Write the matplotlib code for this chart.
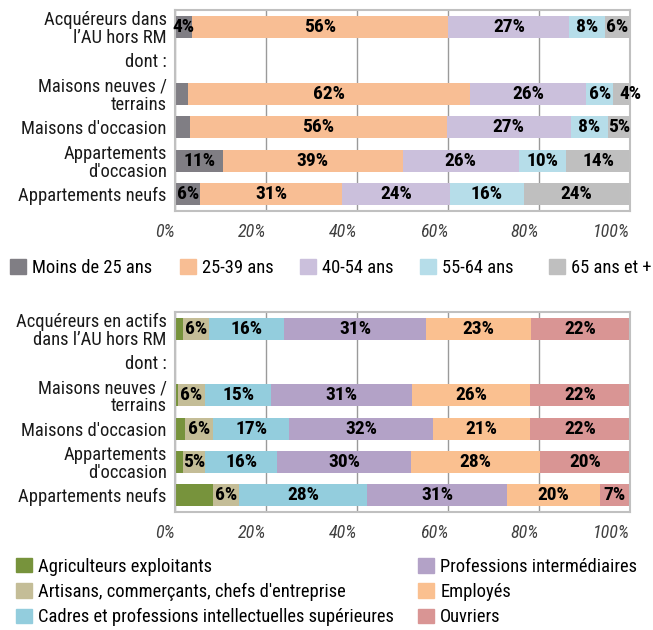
import numpy as np
import matplotlib as mpl
mpl.use('Agg')
import matplotlib.pyplot as plt
import matplotlib.transforms as mtransforms
from matplotlib.patches import Patch

plt.rcParams['font.family'] = ['Roboto Condensed', 'Archivo Narrow', 'Liberation Sans Narrow', 'DejaVu Sans']

# --- top chart: age of buyers ---
age_rows = ["Acquéreurs dans\nl’AU hors RM", "dont :", "Maisons neuves /\nterrains",
            "Maisons d'occasion", "Appartements\nd'occasion", "Appartements neufs"]
age_names = ["Moins de 25 ans", "25-39 ans", "40-54 ans", "55-64 ans", "65 ans et +"]
age_colors = ["#807e84", "#f8be94", "#cbc0dc", "#b6dde9", "#bfbfbf"]
age_u25 = [3.7, 0, 2.9, 3.3, 10.6, 5.6]
age_25_39 = [56.4, 0, 61.9, 56.4, 39.4, 31.2]
age_40_54 = [26.6, 0, 25.6, 27.3, 25.6, 23.6]
age_55_64 = [7.8, 0, 5.9, 8.1, 10.4, 16.2]
age_65 = [5.5, 0, 3.7, 4.9, 14.0, 23.4]
age_labels = [[4, 56, 27, 8, 6],
              [None] * 5,
              [None, 62, 26, 6, 4],
              [None, 56, 27, 8, 5],
              [11, 39, 26, 10, 14],
              [6, 31, 24, 16, 24]]

# --- bottom chart: socio-professional category ---
csp_rows = ["Acquéreurs en actifs\ndans l’AU hors RM", "dont :", "Maisons neuves /\nterrains",
            "Maisons d'occasion", "Appartements\nd'occasion", "Appartements neufs"]
csp_names = ["Agriculteurs exploitants", "Artisans, commerçants, chefs d'entreprise",
             "Cadres et professions intellectuelles supérieures",
             "Professions intermédiaires", "Employés", "Ouvriers"]
csp_colors = ["#77933c", "#c4bd97", "#93cddd", "#b3a2c7", "#fac090", "#d99594"]
csp_agri = [1.8, 0, 0.7, 2.2, 1.8, 8.3]
csp_arti = [5.7, 0, 5.9, 6.2, 4.9, 5.8]
csp_cadres = [16.4, 0, 14.6, 16.7, 15.7, 28.2]
csp_inter = [31.3, 0, 30.9, 31.7, 29.5, 30.7]
csp_empl = [23.0, 0, 26.0, 21.2, 28.3, 20.3]
csp_ouvr = [21.8, 0, 21.9, 22.0, 19.8, 6.7]
csp_labels = [[None, 6, 16, 31, 23, 22],
              [None] * 6,
              [None, 6, 15, 31, 26, 22],
              [None, 6, 17, 32, 21, 22],
              [None, 5, 16, 30, 28, 20],
              [None, 6, 28, 31, 20, 7]]

xticks = [0, 20, 40, 60, 80, 100]

FS = 13.3
W, H = 653, 630


def stacked(ax, rows, series, colors, labels):
    y = np.arange(len(rows))
    left = np.zeros(len(rows))
    for k, (vals, col) in enumerate(zip(series, colors)):
        vals = np.array(vals, dtype=float)
        ax.barh(y, vals, left=left, height=0.66, color=col, zorder=2)
        for i in range(len(rows)):
            lab = labels[i][k]
            if lab is not None:
                xc = left[i] + vals[i] / 2
                # very thin last segment: label sits on the right edge
                if k == len(series) - 1 and vals[i] < 4.5:
                    xc = left[i] + vals[i]
                ax.text(xc, y[i], f"{lab}%", ha='center', va='center',
                        fontsize=14, fontweight='bold', color='black', zorder=3, clip_on=False)
        left += vals
    ax.set_xlim(0, 100)
    ax.set_ylim(len(rows) - 0.5, -0.5)
    ax.set_yticks(y)
    ax.set_yticklabels(rows, fontsize=FS, linespacing=1.0, color='#1a1a1a')
    ax.set_xticks(xticks)
    ax.set_xticklabels([f"{t}%" for t in xticks], fontsize=13, style='italic',
                       color='#404040', ha='right')
    offset = mtransforms.ScaledTranslation(4 / 72, 0, ax.figure.dpi_scale_trans)
    for t in ax.get_xticklabels():
        t.set_transform(t.get_transform() + offset)
    ax.tick_params(axis='both', length=0)
    ax.tick_params(axis='y', pad=6)
    ax.tick_params(axis='x', pad=9)
    ax.grid(axis='x', color='#9a9a9a', linewidth=1)
    ax.set_axisbelow(True)
    for s in ax.spines.values():
        s.set_color('#c0c0c0')
        s.set_linewidth(1.5)


def legend_block(fig, names, colors, x, y, spacing=0.2):
    handles = [Patch(color=c) for c in colors]
    leg = fig.legend(handles, names, loc='center left', bbox_to_anchor=(x / W, 1 - y / H),
                     frameon=False, fontsize=FS, handlelength=0.85, handleheight=0.85,
                     handletextpad=0.35, labelspacing=spacing, borderpad=0, borderaxespad=0)
    return leg


fig = plt.figure(figsize=(6.53, 6.30), dpi=100)

ax1 = fig.add_axes([175 / W, 1 - 211 / H, 455 / W, 201 / H])
stacked(ax1, age_rows, [age_u25, age_25_39, age_40_54, age_55_64, age_65], age_colors, age_labels)

ax2 = fig.add_axes([175 / W, 1 - 512 / H, 455 / W, 200 / H])
stacked(ax2, csp_rows, [csp_agri, csp_arti, csp_cadres, csp_inter, csp_empl, csp_ouvr],
        csp_colors, csp_labels)

# legends: one entry per column, placed as in the original layout
for name, col, x in zip(age_names, age_colors, [10, 180, 300, 420, 549]):
    legend_block(fig, [name], [col], x, 268)

legend_block(fig, csp_names[:3], csp_colors[:3], 16, 592, spacing=0.4)
legend_block(fig, csp_names[3:], csp_colors[3:], 418, 592, spacing=0.4)

fig.savefig("out.png", dpi=100)
